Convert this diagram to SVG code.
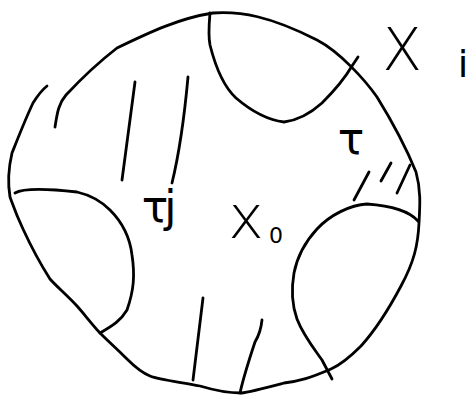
<svg xmlns="http://www.w3.org/2000/svg" width="468" height="396" viewBox="0 0 468 396">
<style>
.s{fill:none;stroke:#000;stroke-width:2.8;stroke-linecap:round;stroke-linejoin:round}
.t{font-family:"DejaVu Sans","Liberation Sans",sans-serif;fill:#000}
</style>
<rect width="468" height="396" fill="#fff"/>
<g id="boundary">
<path class="s" d="M55,127 C57,115 58,104 66,95 C80,80 95,65 117,48 C150,32 180,18 213,13 C240,11 270,16 317,40 C340,52 365,80 377,97 C390,118 405,145 416,172 C421,190 420,205 419,223 C418,245 414,262 401,286 C392,303 380,325 361,346 C350,357 340,365 331,369 C310,378 300,381 284,383 C265,388 250,392 241,393 C225,393 210,389 200,386 C180,382 160,380 150,376 C140,372 133,365 127,359 C115,347 110,343 100,333 C90,322 85,315 77,306 C68,296 55,285 50,279 C43,268 35,255 23,229 C15,212 13,205 10,197 C8,185 8,170 12,153 C18,138 25,120 33,103 C38,95 42,90 47,86"/>
</g>
<g id="caps">
<path class="s" d="M210,13 C209,25 208,35 210,45 C215,65 222,85 236,98 C250,110 268,120 284,122 C300,120 312,112 322,103 C335,90 345,78 352,66 L358,57"/>
<path class="s" d="M15,193 C22,189 40,188 77,192 C90,195 100,200 110,210 C122,222 130,238 132,255 C135,275 134,290 127,310 C120,322 110,327 100,333"/>
<path class="s" d="M418,221 C410,212 395,206 367,204 C350,205 330,215 317,229 C305,242 297,258 294,273 C291,290 292,305 297,319 C303,335 315,350 322,360 L332,379"/>
</g>
<g id="hatches">
<path class="s" d="M135,82 L122,180"/>
<path class="s" d="M188,77 C185,110 180,150 172,183"/>
<path class="s" d="M203,298 L193,380"/>
<path class="s" d="M262,320 C261,330 258,337 255,342 C250,357 244,375 240,393"/>
<path class="s" d="M369,172 L354,200"/>
<path class="s" d="M391,163 L381,181"/>
<path class="s" d="M410,165 L397,193"/>
</g>
<g id="labels">
<text class="t" x="402" y="70" font-size="58" font-weight="200" text-anchor="middle">X</text>
<text class="t" x="463" y="77" font-size="38" text-anchor="middle">i</text>
<text class="t" x="351" y="154" font-size="44" text-anchor="middle">τ</text>
<text class="t" x="157" y="222" font-size="44" letter-spacing="-4" text-anchor="middle">τj</text>
<text class="t" x="246" y="238" font-size="60" font-weight="200" text-anchor="middle">x</text>
<text class="t" x="276" y="243" font-size="22" text-anchor="middle">0</text>
</g>
</svg>
